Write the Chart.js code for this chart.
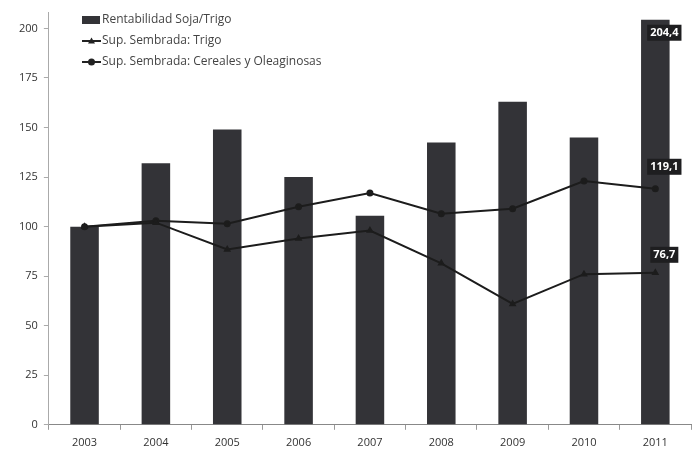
<!DOCTYPE html>
<html>
<head>
<meta charset="utf-8">
<style>
  html, body { margin: 0; padding: 0; background: #fff; overflow: hidden; }
  #wrap { position: relative; width: 697px; height: 450px; }
  #chart { display: block; }
</style>
<script src="https://cdn.jsdelivr.net/npm/chart.js@4/dist/chart.umd.min.js"></script>
</head>
<body>
<div id="wrap"><canvas id="chart"></canvas></div>
<script>
var categories = ['2003', '2004', '2005', '2006', '2007', '2008', '2009', '2010', '2011'];
var rentabilidad = [100, 132, 149, 125, 105.5, 142.5, 163, 145, 204.4];
var supTrigo = [100, 102, 88.5, 94, 98, 81.5, 61, 76, 76.7];
var supCereales = [100, 103, 101.5, 110, 117, 106.5, 109, 123, 119.1];
var yTicks = [0, 25, 50, 75, 100, 125, 150, 175, 200];
var lastLabels = ['204,4', '76,7', '119,1'];

var FONT = '"Open Sans", "DejaVu Sans", sans-serif';
var DARK = '#333337';

// legend drawn inside the plot, stacked, like the original
var legendPlugin = {
  id: 'insideLegend',
  afterDraw: function (chart) {
    var ctx = chart.ctx;
    var x = 82, rows = [20, 41, 62];
    ctx.save();
    ctx.font = '12px ' + FONT;
    ctx.textBaseline = 'middle';
    chart.data.datasets.forEach(function (ds, i) {
      var y = rows[i];
      if (ds.type === 'bar') {
        ctx.fillStyle = DARK;
        ctx.fillRect(x, y - 4, 18, 8);
      } else {
        ctx.strokeStyle = '#222';
        ctx.lineWidth = 2;
        ctx.beginPath();
        ctx.moveTo(x, y);
        ctx.lineTo(x + 19, y);
        ctx.stroke();
        ctx.fillStyle = '#222';
        ctx.beginPath();
        if (ds.pointStyle === 'triangle') {
          ctx.moveTo(x + 9.5, y - 3.5);
          ctx.lineTo(x + 13, y + 2.5);
          ctx.lineTo(x + 6, y + 2.5);
        } else {
          ctx.arc(x + 9.5, y, 3.5, 0, Math.PI * 2);
        }
        ctx.fill();
      }
      ctx.fillStyle = '#444';
      ctx.fillText(ds.label, x + 20, y);
    });
    ctx.restore();
  }
};

// dark boxed value labels on the last category
var lastValuePlugin = {
  id: 'lastValues',
  afterDatasetsDraw: function (chart) {
    var ctx = chart.ctx;
    var offsets = [13, -18, -22];
    ctx.save();
    ctx.font = 'bold 11px ' + FONT;
    ctx.textAlign = 'center';
    ctx.textBaseline = 'middle';
    chart.data.datasets.forEach(function (ds, i) {
      var meta = chart.getDatasetMeta(i);
      var el = meta.data[meta.data.length - 1];
      if (!el) return;
      var txt = lastLabels[i];
      var cx = el.x + 9;
      var cy = el.y + offsets[i];
      var w = ctx.measureText(txt).width + 6;
      ctx.fillStyle = '#1e1e20';
      ctx.fillRect(cx - w / 2, cy - 8, w, 16);
      ctx.fillStyle = '#fff';
      ctx.fillText(txt, cx, cy);
    });
    ctx.restore();
  }
};

new Chart(document.getElementById('chart'), {
  data: {
    labels: categories,
    datasets: [
      {
        type: 'bar',
        label: 'Rentabilidad Soja/Trigo',
        data: rentabilidad,
        backgroundColor: DARK,
        barPercentage: 0.8,
        categoryPercentage: 0.5,
        order: 3
      },
      {
        type: 'line',
        label: 'Sup. Sembrada: Trigo',
        data: supTrigo,
        borderColor: '#1c1c1c',
        backgroundColor: '#1c1c1c',
        borderWidth: 2,
        pointStyle: 'triangle',
        pointRadius: 2.5,
        tension: 0,
        order: 1
      },
      {
        type: 'line',
        label: 'Sup. Sembrada: Cereales y Oleaginosas',
        data: supCereales,
        borderColor: '#1c1c1c',
        backgroundColor: '#1c1c1c',
        borderWidth: 2,
        pointStyle: 'circle',
        pointRadius: 2.5,
        tension: 0,
        order: 2
      }
    ]
  },
  options: {
    responsive: true,
    maintainAspectRatio: false,
    animation: false,
    layout: { padding: { top: 2, right: 0, bottom: -5, left: 13 } },
    plugins: {
      legend: { display: false },
      tooltip: { enabled: false }
    },
    scales: {
      x: {
        grid: {
          offset: true,
          drawOnChartArea: false,
          color: '#999',
          tickLength: 5
        },
        border: { color: '#888', width: 1 },
        ticks: {
          color: '#333',
          font: { family: FONT, size: 11 },
          padding: 6,
          maxRotation: 0
        }
      },
      y: {
        min: 0,
        max: 208,
        afterBuildTicks: function (axis) {
          axis.ticks = yTicks.map(function (v) { return { value: v }; });
        },
        grid: {
          drawOnChartArea: false,
          color: '#aaa',
          tickLength: 5
        },
        border: { color: '#aaa', width: 1 },
        ticks: {
          color: '#333',
          font: { family: FONT, size: 11 },
          padding: 6
        }
      }
    }
  },
  plugins: [legendPlugin, lastValuePlugin]
});
</script>
</body>
</html>
